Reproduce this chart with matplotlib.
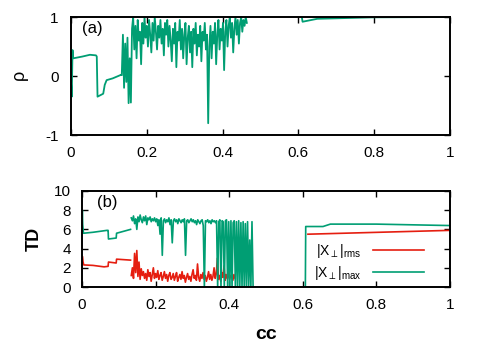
import matplotlib
matplotlib.use("Agg")
import matplotlib.pyplot as plt
import numpy as np

plt.rcParams['font.family'] = ['Liberation Sans', 'DejaVu Sans']
plt.rcParams['mathtext.fontset'] = 'custom'
plt.rcParams['mathtext.rm'] = 'Liberation Sans'
plt.rcParams['mathtext.it'] = 'Liberation Sans'
plt.rcParams['axes.unicode_minus'] = False

GREEN = '#009e73'
RED = '#e51e10'

# ---- panel (a): rho vs cc ----
cc_a_start = [0.0, 0.002, 0.004, 0.006, 0.03, 0.05, 0.066, 0.068, 0.070,
              0.085, 0.089, 0.094, 0.11, 0.132]
rho_start = [-0.1, -0.35, 0.44, 0.30, 0.33, 0.36, 0.35, 0.33, -0.35,
             -0.30, -0.15, -0.07, -0.04, 0.02]

rho_noise = [0.02, 0.7, -0.2, 0.55, -0.1, 0.65, -0.46, 0.3, -0.45, 0.8,
             1.0, 0.45, 0.85, 0.3, 0.95, 0.6, 0.75, 0.2, 0.9, 0.55, 1.0, 0.65,
             0.85, 0.5, 0.95, 0.7, 0.4, 0.9, 0.6, 1.0, 0.75, 0.45, 0.85, 0.65,
             0.95, 0.55, 0.8, 0.35, 0.9,
             0.7, 0.95, 0.5, 0.85, 0.6, 0.25, 0.8, 0.55, 0.9, 0.15, 0.75, 0.6,
             0.95, 0.45, 0.8, 0.3, 0.7,
             0.9, 0.2, 0.65, 0.85, 0.4, 0.75, 0.15, 0.8, 0.55, 0.9, 0.35, 0.7,
             0.5, 0.85, 0.25, 0.75, 0.6, 0.9, 0.45, 0.7,
             -0.8, 0.5, 0.85, 0.3, 0.75, 0.55, 0.9, 0.2, 0.7, 0.95, 0.45, 0.8,
             0.6, 0.9, 0.1, 0.75, 0.95, 0.5, 0.85, 1.0, 0.65, 0.9, 0.4, 0.8,
             1.0, 0.7, 0.95, 0.55, 0.9, 1.0, 0.75, 0.95, 0.85, 1.0, 0.9]
cc_a_noise = np.linspace(0.134, 0.464, len(rho_noise))

cc_a_end = [0.609, 0.611, 0.65, 0.8, 1.0]
rho_end = [1.0, 0.92, 0.97, 0.995, 1.0]

# ---- panel (b): TD vs cc ----
cc_max_start = [0.0, 0.001, 0.002, 0.004, 0.03, 0.068, 0.071, 0.072, 0.093,
                0.094, 0.132]
max_start = [6.0, 8.0, 6.5, 5.6, 5.7, 5.9, 5.9, 5.0, 5.1, 5.6, 6.0]

max_noise = [7.2, 6.9, 7.4, 6.6, 7.1, 6.0, 7.3, 6.8, 7.5, 7.0, 6.7, 7.3, 6.9,
             7.4, 6.5, 7.2, 7.0, 7.3, 6.8, 7.1, 6.9, 7.2,
             6.8, 7.1, 6.4, 7.0, 5.5, 7.2, 3.3, 6.9, 7.1, 6.7, 7.0, 6.8, 7.2,
             6.5, 7.0, 4.6, 6.9,
             7.1, 6.8, 7.0, 6.6, 7.1, 6.9, 6.7, 7.0, 6.8, 7.1, 3.3, 6.9, 7.0,
             6.7, 6.9, 7.1, 6.8,
             7.0, 6.7, 6.9, 6.5, 7.0, 6.8, 6.6, 6.9, 7.0, 6.4, 0.0, 6.9, 6.8,
             7.0, 6.7, 6.9, 6.6, 7.0, 6.8, 6.9,
             6.7, 6.9, 0.0, 6.8, 7.0, 0.0, 6.9, 6.8, 0.0, 6.9, 7.0, 0.0,
             6.8, 0.0, 6.9, 0.0, 6.7, 6.9, 0.0, 6.8, 0.0, 6.9, 0.0, 6.7, 0.0,
             6.8, 0.0, 6.6, 0.0, 6.8, 0.0, 4.9, 0.0, 6.8, 0.0]
cc_max_noise = np.linspace(0.134, 0.465, len(max_noise))

cc_max_end = [0.607, 0.608, 0.655, 0.675, 0.8, 1.0]
max_end = [0.0, 6.3, 6.3, 6.55, 6.55, 6.4]

cc_rms_start = [0.0, 0.001, 0.003, 0.005, 0.03, 0.06, 0.071, 0.072, 0.093,
                0.094, 0.132]
rms_start = [2.0, 3.2, 2.6, 2.3, 2.25, 2.1, 2.15, 2.6, 2.5, 2.9, 2.8]

rms_noise = [1.2, 2.0, 0.9, 3.5, 1.5, 3.8, 1.1, 2.6, 0.8, 1.9, 1.2, 1.6, 0.9,
             1.4, 0.7, 1.8, 1.1, 1.5, 0.6, 1.3, 2.0, 0.9, 1.4, 1.0, 1.7, 0.8,
             1.2, 1.5, 0.7, 1.1, 1.6, 0.9, 1.3, 0.6, 1.2, 1.5, 0.8, 1.0, 1.4,
             0.7,
             1.1, 1.5, 0.6, 1.0, 1.3, 0.8, 1.6, 0.9, 1.2, 0.5, 1.0, 1.4, 0.8,
             1.1, 0.6, 1.3, 1.8, 0.9, 1.2, 0.7, 2.4, 1.0, 0.6, 1.3, 0.9, 1.5,
             0.8,
             1.2, 0.6, 1.0, 1.6, 0.8, 1.3, 0.7, 1.1, 2.0, 0.9, 1.4, 3.0, 0.8,
             1.2, 0.6, 1.5, 1.0, 2.2, 0.7, 1.3, 0.9, 1.6, 0.8, 1.2, 1.0, 0.7,
             1.3, 0.9]
cc_rms_noise = np.linspace(0.134, 0.416, len(rms_noise))

cc_rms_end = [0.614, 1.0]
rms_end = [5.5, 5.9]

xticks = [0, 0.2, 0.4, 0.6, 0.8, 1]
xticklabels = ['0', '0.2', '0.4', '0.6', '0.8', '1']


def join(*parts):
    # glue segments with NaN so gaps show
    xs, ys = [], []
    for x, y in parts:
        xs += list(x) + [np.nan]
        ys += list(y) + [np.nan]
    return np.array(xs), np.array(ys)


def style(ax):
    ax.tick_params(direction='in', top=True, right=True, length=4, width=1,
                   labelsize=11)
    for s in ax.spines.values():
        s.set_linewidth(1.4)
    ax.set_xlim(0, 1)
    ax.set_xticks(xticks)
    ax.set_xticklabels(xticklabels)


fig = plt.figure(figsize=(4.85, 3.46), dpi=100)
ax = fig.add_axes([0.1464, 0.6098, 0.7814, 0.341])
ax2 = fig.add_axes([0.169, 0.1705, 0.7588, 0.2775])

x, y = join((cc_a_start, rho_start), (cc_a_noise, rho_noise), (cc_a_end, rho_end))
ax.plot(x, y, color=GREEN, lw=1.3)
style(ax)
ax.set_ylim(-1, 1)
ax.set_yticks([-1, 0, 1])
ax.tick_params(axis='x', pad=8)
ax.tick_params(axis='y', pad=9)
ax.set_ylabel(r'$\rho$', fontsize=13, labelpad=10)
ax.text(0.03, 0.97, '(a)', transform=ax.transAxes, fontsize=12, va='top')

xr, yr = join((cc_rms_start, rms_start), (cc_rms_noise, rms_noise), (cc_rms_end, rms_end))
xm, ym = join((cc_max_start, max_start), (cc_max_noise, max_noise), (cc_max_end, max_end))
ax2.plot(xr, yr, color=RED, lw=1.2, label=r'$|\mathrm{X}_{\perp}|_{\mathrm{rms}}$')
ax2.plot(xm, ym, color=GREEN, lw=1.2, label=r'$|\mathrm{X}_{\perp}|_{\mathrm{max}}$')
style(ax2)
ax2.set_ylim(0, 10)
ax2.set_yticks([0, 2, 4, 6, 8, 10])
ax2.tick_params(axis='x', pad=8)
ax2.tick_params(axis='y', pad=8)
ax2.set_ylabel('TD', fontsize=13, fontweight='bold', labelpad=8)
ax2.set_xlabel('cc', fontsize=14, fontweight='bold', labelpad=10)
ax2.text(0.04, 0.96, '(b)', transform=ax2.transAxes, fontsize=12, va='top')

ax2.legend(loc='center', bbox_to_anchor=(0.78, 0.26), frameon=False,
           markerfirst=False, fontsize=10, handlelength=3.7, labelspacing=0.3,
           handletextpad=0.8)

fig.savefig('out.png', dpi=100)
